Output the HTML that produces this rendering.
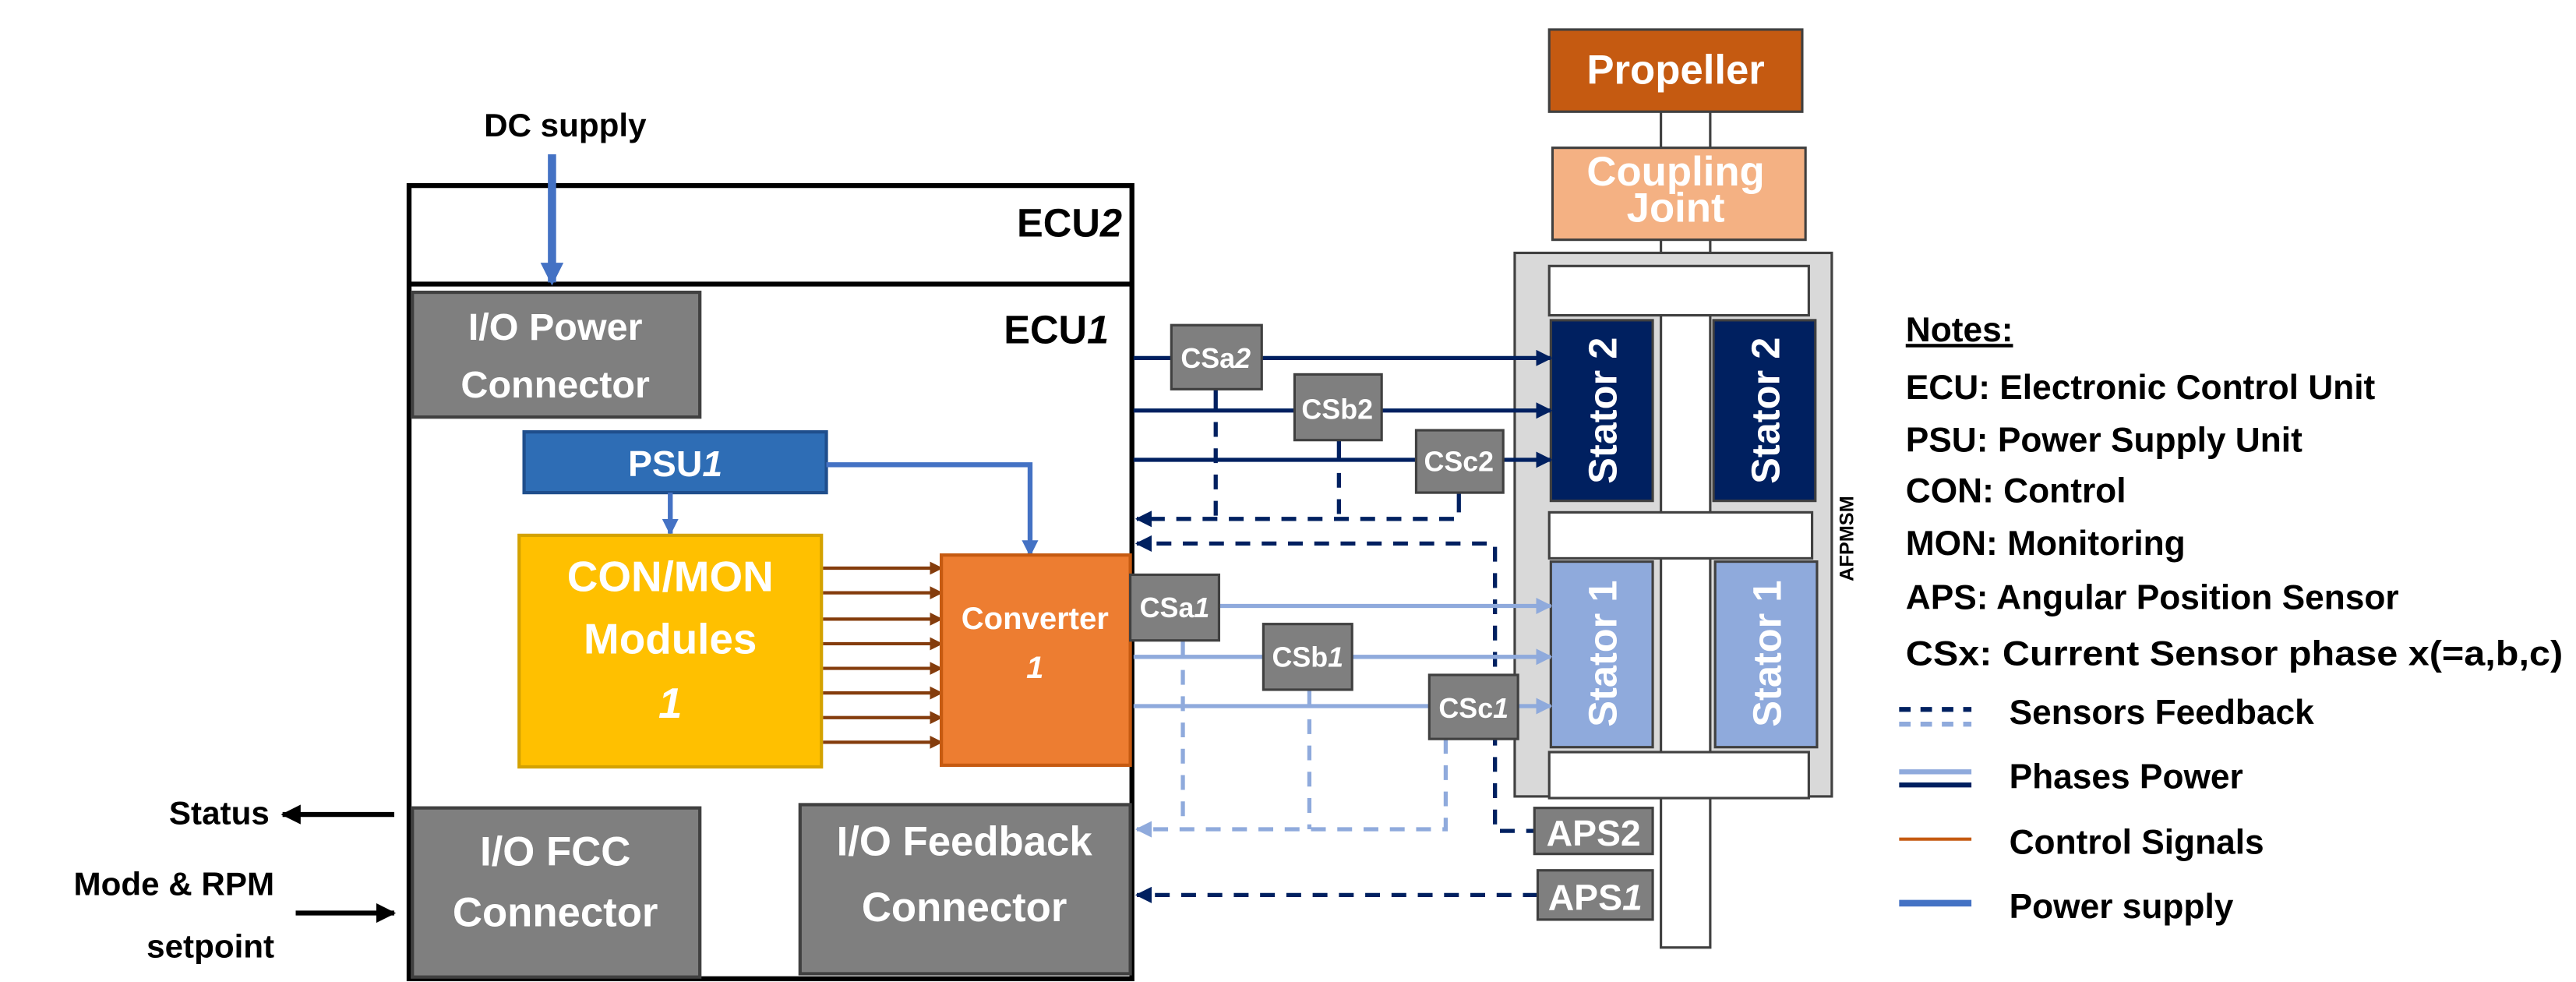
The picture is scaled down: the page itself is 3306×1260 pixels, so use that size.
<!DOCTYPE html>
<html><head><meta charset="utf-8"><style>
html,body{margin:0;padding:0;background:#fff;}
svg{display:block;}
text{font-family:"Liberation Sans Narrow","Liberation Sans",sans-serif;font-weight:bold;}
</style></head><body>
<svg width="3306" height="1260" viewBox="0 0 1568 598" preserveAspectRatio="none" xmlns="http://www.w3.org/2000/svg">
<defs>
<marker id="aB" markerWidth="14" markerHeight="14" refX="12" refY="7" orient="auto" markerUnits="userSpaceOnUse"><path d="M0,0 L14,7 L0,14 z" fill="#4472c4"/></marker>
<marker id="aB2" markerWidth="10" markerHeight="10" refX="9" refY="5" orient="auto" markerUnits="userSpaceOnUse"><path d="M0,0 L10,5 L0,10 z" fill="#4472c4"/></marker>
<marker id="aN" markerWidth="10" markerHeight="10" refX="9" refY="5" orient="auto" markerUnits="userSpaceOnUse"><path d="M0,0 L10,5 L0,10 z" fill="#002060"/></marker>
<marker id="aL" markerWidth="10" markerHeight="10" refX="9" refY="5" orient="auto" markerUnits="userSpaceOnUse"><path d="M0,0 L10,5 L0,10 z" fill="#8faadc"/></marker>
<marker id="aR" markerWidth="8" markerHeight="8" refX="7" refY="4" orient="auto" markerUnits="userSpaceOnUse"><path d="M0,0 L8,4 L0,8 z" fill="#843c0c"/></marker>
<marker id="aBlk" markerWidth="12" markerHeight="12" refX="11" refY="6" orient="auto" markerUnits="userSpaceOnUse"><path d="M0,0 L12,6 L0,12 z" fill="#000"/></marker>
</defs>

<!-- ECU box -->
<rect x="249" y="113" width="440" height="483" fill="#fff" stroke="#000" stroke-width="3"/>
<line x1="249" y1="173" x2="689" y2="173" stroke="#000" stroke-width="3"/>
<text x="683" y="144" font-size="24" text-anchor="end">ECU<tspan font-style="italic">2</tspan></text>
<text x="675" y="209" font-size="24" text-anchor="end">ECU<tspan font-style="italic">1</tspan></text>

<!-- DC supply -->
<text x="344" y="83" font-size="20" text-anchor="middle">DC supply</text>
<line x1="336" y1="94" x2="336" y2="172" stroke="#4472c4" stroke-width="5" marker-end="url(#aB)"/>

<rect x="251" y="178" width="175" height="76" fill="#7f7f7f" stroke="#404040" stroke-width="2"/>
<text x="338" y="207" font-size="23" fill="#fff" text-anchor="middle">I/O Power</text>
<text x="338" y="242" font-size="23" fill="#fff" text-anchor="middle">Connector</text>

<!-- PSU -->
<rect x="319" y="263" width="184" height="37" fill="#2e6db5" stroke="#1f4e8c" stroke-width="2"/>
<text x="411" y="290" font-size="22" fill="#fff" text-anchor="middle">PSU<tspan font-style="italic">1</tspan></text>
<line x1="408" y1="300" x2="408" y2="325" stroke="#4472c4" stroke-width="3" marker-end="url(#aB2)"/>
<polyline points="503,283 627,283 627,338" fill="none" stroke="#4472c4" stroke-width="3" marker-end="url(#aB2)"/>

<!-- CON/MON -->
<rect x="316" y="326" width="184" height="141" fill="#ffc000" stroke="#d4a200" stroke-width="2"/>
<text x="408" y="360" font-size="26" fill="#fff" text-anchor="middle">CON/MON</text>
<text x="408" y="398" font-size="26" fill="#fff" text-anchor="middle">Modules</text>
<text x="408" y="437" font-size="26" fill="#fff" font-style="italic" text-anchor="middle">1</text>

<!-- control signals -->
<g stroke="#843c0c" stroke-width="2" marker-end="url(#aR)">
<line x1="501" y1="346" x2="573" y2="346"/>
<line x1="501" y1="361" x2="573" y2="361"/>
<line x1="501" y1="377" x2="573" y2="377"/>
<line x1="501" y1="392" x2="573" y2="392"/>
<line x1="501" y1="407" x2="573" y2="407"/>
<line x1="501" y1="422" x2="573" y2="422"/>
<line x1="501" y1="437" x2="573" y2="437"/>
<line x1="501" y1="452" x2="573" y2="452"/>
</g>

<!-- Converter -->
<rect x="573" y="338" width="115" height="128" fill="#ed7d31" stroke="#c55a11" stroke-width="2"/>
<text x="630" y="383" font-size="19" fill="#fff" text-anchor="middle">Converter</text>
<text x="630" y="413" font-size="19" fill="#fff" font-style="italic" text-anchor="middle">1</text>

<!-- bottom connectors -->
<rect x="251" y="492" width="175" height="103" fill="#7f7f7f" stroke="#404040" stroke-width="2"/>
<text x="338" y="527" font-size="25" fill="#fff" text-anchor="middle">I/O FCC</text>
<text x="338" y="564" font-size="25" fill="#fff" text-anchor="middle">Connector</text>
<rect x="487" y="490" width="201" height="103" fill="#7f7f7f" stroke="#404040" stroke-width="2"/>
<text x="587" y="521" font-size="25" fill="#fff" text-anchor="middle">I/O Feedback</text>
<text x="587" y="561" font-size="25" fill="#fff" text-anchor="middle">Connector</text>

<!-- Status & mode -->
<text x="164" y="502" font-size="20" text-anchor="end">Status</text>
<line x1="240" y1="496" x2="172" y2="496" stroke="#000" stroke-width="3" marker-end="url(#aBlk)"/>
<text x="167" y="545" font-size="20" text-anchor="end">Mode &amp; RPM</text>
<text x="167" y="583" font-size="20" text-anchor="end">setpoint</text>
<line x1="180" y1="556" x2="240" y2="556" stroke="#000" stroke-width="3" marker-end="url(#aBlk)"/>

<!-- Propeller, coupling -->
<rect x="1011" y="66" width="30" height="26" fill="#fff" stroke="#404040" stroke-width="1.5"/>
<rect x="1011" y="144" width="30" height="12" fill="#fff" stroke="#404040" stroke-width="1.5"/>
<rect x="943" y="18" width="154" height="50" fill="#c55a11" stroke="#404040" stroke-width="1.5"/>
<text x="1020" y="51" font-size="25" fill="#fff" text-anchor="middle">Propeller</text>
<rect x="945" y="90" width="154" height="56" fill="#f4b183" stroke="#404040" stroke-width="1.5"/>
<text x="1020" y="113" font-size="25" fill="#fff" text-anchor="middle">Coupling</text>
<text x="1020" y="135" font-size="25" fill="#fff" text-anchor="middle">Joint</text>

<!-- AFPMSM -->
<rect x="922" y="154" width="193" height="331" fill="#d9d9d9" stroke="#404040" stroke-width="1.5"/>
<rect x="1011" y="190" width="30" height="387" fill="#fff" stroke="#404040" stroke-width="1.5"/>
<rect x="943" y="162" width="158" height="30" fill="#fff" stroke="#404040" stroke-width="1.5"/>
<rect x="943" y="312" width="160" height="28" fill="#fff" stroke="#404040" stroke-width="1.5"/>
<rect x="943" y="458" width="158" height="28" fill="#fff" stroke="#404040" stroke-width="1.5"/>
<rect x="944" y="195" width="62" height="110" fill="#002060" stroke="#404040" stroke-width="1.5"/>
<rect x="1043" y="195" width="62" height="110" fill="#002060" stroke="#404040" stroke-width="1.5"/>
<rect x="944" y="342" width="62" height="113" fill="#8faadc" stroke="#404040" stroke-width="1.5"/>
<rect x="1044" y="342" width="62" height="113" fill="#8faadc" stroke="#404040" stroke-width="1.5"/>
<g font-family="Liberation Sans,sans-serif" font-size="24" fill="#fff" text-anchor="middle">
<text transform="translate(984,250) rotate(-90)">Stator 2</text>
<text transform="translate(1083,250) rotate(-90)">Stator 2</text>
<text transform="translate(984,398) rotate(-90)">Stator 1</text>
<text transform="translate(1084,398) rotate(-90)">Stator 1</text>
</g>
<text transform="translate(1128,328) rotate(-90)" font-family="Liberation Sans,sans-serif" font-size="12" text-anchor="middle">AFPMSM</text>

<!-- phase power 2 -->
<g stroke="#002060" stroke-width="2.5">
<line x1="690" y1="218" x2="944" y2="218" marker-end="url(#aN)"/>
<line x1="690" y1="250" x2="944" y2="250" marker-end="url(#aN)"/>
<line x1="690" y1="280" x2="944" y2="280" marker-end="url(#aN)"/>
<line x1="740" y1="237" x2="740" y2="250"/>
<line x1="815" y1="268" x2="815" y2="280"/>
<line x1="888" y1="300" x2="888" y2="312"/>
</g>
<g stroke="#002060" stroke-width="2.5" stroke-dasharray="9,7" fill="none">
<line x1="740" y1="257" x2="740" y2="316"/>
<line x1="815" y1="288" x2="815" y2="316"/>
<line x1="885" y1="316" x2="692" y2="316" marker-end="url(#aN)"/>
<polyline points="938,506 910,506 910,331 692,331" marker-end="url(#aN)"/>
<line x1="936" y1="545" x2="692" y2="545" marker-end="url(#aN)"/>
</g>

<!-- phase power 1 -->
<g stroke="#8faadc" stroke-width="2.5">
<line x1="690" y1="369" x2="944" y2="369" marker-end="url(#aL)"/>
<line x1="690" y1="400" x2="944" y2="400" marker-end="url(#aL)"/>
<line x1="690" y1="430" x2="944" y2="430" marker-end="url(#aL)"/>
<line x1="720" y1="390" x2="720" y2="400"/>
<line x1="797" y1="420" x2="797" y2="430"/>
</g>
<g stroke="#8faadc" stroke-width="2.5" stroke-dasharray="9,7" fill="none">
<line x1="720" y1="408" x2="720" y2="505"/>
<line x1="797" y1="438" x2="797" y2="505"/>
<polyline points="880,450 880,505 692,505" marker-end="url(#aL)"/>
</g>

<!-- CS boxes -->
<g fill="#7f7f7f" stroke="#404040" stroke-width="1.5">
<rect x="713" y="198" width="55" height="39"/>
<rect x="788" y="228" width="53" height="40"/>
<rect x="862" y="262" width="53" height="38"/>
<rect x="688" y="350" width="54" height="40"/>
<rect x="769" y="380" width="54" height="40"/>
<rect x="870" y="411" width="54" height="39"/>
<rect x="934" y="492" width="72" height="28"/>
<rect x="936" y="530" width="70" height="30"/>
</g>
<g font-size="17" fill="#fff" text-anchor="middle">
<text x="740" y="224">CSa<tspan font-style="italic">2</tspan></text>
<text x="814" y="255">CSb2</text>
<text x="888" y="287">CSc2</text>
<text x="715" y="376">CSa<tspan font-style="italic">1</tspan></text>
<text x="796" y="406">CSb<tspan font-style="italic">1</tspan></text>
<text x="897" y="437">CSc<tspan font-style="italic">1</tspan></text>
</g>
<text x="970" y="515" font-size="22" fill="#fff" text-anchor="middle">APS2</text>
<text x="971" y="554" font-size="22" fill="#fff" text-anchor="middle">APS<tspan font-style="italic">1</tspan></text>

<!-- Notes -->
<g font-size="21">
<text x="1160" y="208" text-decoration="underline">Notes:</text>
<text x="1160" y="243">ECU: Electronic Control Unit</text>
<text x="1160" y="275">PSU: Power Supply Unit</text>
<text x="1160" y="306">CON: Control</text>
<text x="1160" y="338">MON: Monitoring</text>
<text x="1160" y="371">APS: Angular Position Sensor</text>
<text x="1160" y="405" textLength="400" lengthAdjust="spacingAndGlyphs">CSx: Current Sensor phase x(=a,b,c)</text>
<text x="1223" y="441">Sensors Feedback</text>
<text x="1223" y="480">Phases Power</text>
<text x="1223" y="520">Control Signals</text>
<text x="1223" y="559">Power supply</text>
</g>
<line x1="1156" y1="432" x2="1200" y2="432" stroke="#002060" stroke-width="3" stroke-dasharray="7,6"/>
<line x1="1156" y1="441" x2="1200" y2="441" stroke="#8faadc" stroke-width="3" stroke-dasharray="7,6"/>
<line x1="1156" y1="470" x2="1200" y2="470" stroke="#8faadc" stroke-width="3"/>
<line x1="1156" y1="478" x2="1200" y2="478" stroke="#002060" stroke-width="3"/>
<line x1="1156" y1="511" x2="1200" y2="511" stroke="#c55a11" stroke-width="2"/>
<line x1="1156" y1="550" x2="1200" y2="550" stroke="#4472c4" stroke-width="4"/>
</svg>
</body></html>
